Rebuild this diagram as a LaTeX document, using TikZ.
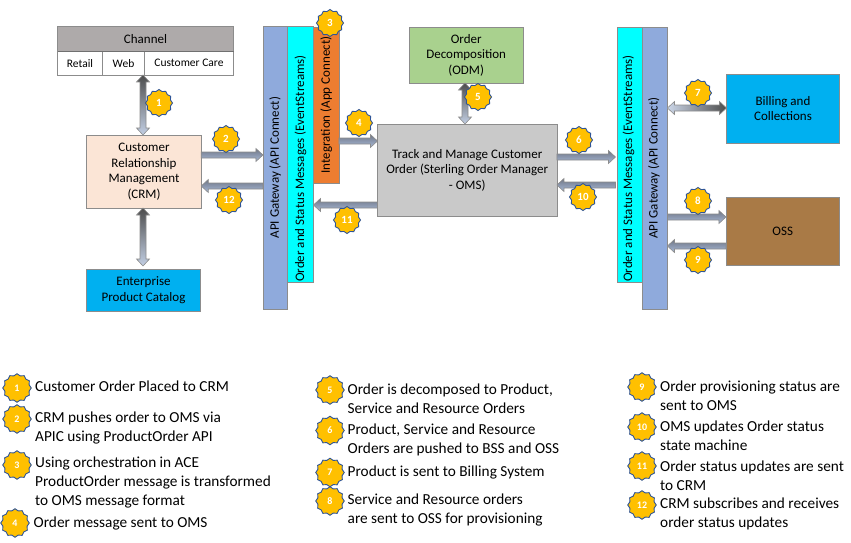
\documentclass[tikz,border=0pt]{standalone}
\usepackage{fontspec}
\setmainfont{Carlito}
\usetikzlibrary{shapes.geometric,calc}
\definecolor{edgegray}{HTML}{8C8C8C}
\definecolor{darkshade}{HTML}{6F7686}
\definecolor{lightshade}{HTML}{A9BBD9}
\definecolor{stargold}{HTML}{FFC000}
\definecolor{starblue}{HTML}{2F5597}
\definecolor{barcyan}{HTML}{00FFFF}
\definecolor{barblue}{HTML}{8FAADC}
\definecolor{skyfill}{HTML}{00B0F0}
\definecolor{crmfill}{HTML}{FBE5D6}
\definecolor{intfill}{HTML}{ED7D31}
\definecolor{odmfill}{HTML}{A9D18E}
\definecolor{ossfill}{HTML}{A97A46}
\definecolor{omsfill}{HTML}{C9C9C9}
\definecolor{chanfill}{HTML}{AEAAAA}
\tikzset{
  box/.style={draw=edgegray,line width=0.9pt,inner sep=0pt,outer sep=0pt,align=center,font=\fontsize{13}{15.5}\selectfont,text=black},
  cell/.style={box,fill=white,minimum height=23.5pt,font=\fontsize{11.5}{14}\selectfont},
  barlabel/.style={box,draw=none,rotate=90},
  badge/.style={star,star points=12,star point ratio=1.14,draw=starblue,line width=0.9pt,fill=stargold,minimum size=27pt,inner sep=0pt,text=white,font=\bfseries\fontsize{11}{11}\selectfont},
  legendbadge/.style={badge,minimum size=28.5pt,font=\bfseries\fontsize{10}{10}\selectfont},
  legend/.style={anchor=west,inner sep=0pt,align=left,font=\fontsize{15.3}{19}\selectfont,text=black},
  arrowbody/.style={draw=edgegray,line width=0.6pt,line join=miter},
  across/.style={arrowbody,top color=darkshade,bottom color=lightshade},
  alongdown/.style={arrowbody,top color=black!70,bottom color=lightshade!70!white},
  alongright/.style={arrowbody,left color=lightshade!60!white,right color=black!70},
}
\newcommand{\blockarrow}[3][across]{%
  \coordinate (ta) at (#2);\coordinate (tb) at (#3);
  \coordinate (th) at ($(tb)!7pt!(ta)$);
  \path[#1] ($(ta)!3pt!90:(tb)$) -- ($(th)!3pt!-90:(ta)$) -- ($(th)!6.5pt!-90:(ta)$) -- (tb)
    -- ($(th)!6.5pt!90:(ta)$) -- ($(th)!3pt!90:(ta)$) -- ($(ta)!3pt!-90:(tb)$) -- cycle;}
\newcommand{\twowayarrow}[3][alongdown]{%
  \coordinate (ta) at (#2);\coordinate (tb) at (#3);
  \coordinate (th) at ($(tb)!7pt!(ta)$);\coordinate (tg) at ($(ta)!7pt!(tb)$);
  \path[#1] (ta) -- ($(tg)!6.5pt!90:(tb)$) -- ($(tg)!3pt!90:(tb)$) -- ($(th)!3pt!-90:(ta)$) -- ($(th)!6.5pt!-90:(ta)$) -- (tb)
    -- ($(th)!6.5pt!90:(ta)$) -- ($(th)!3pt!90:(ta)$) -- ($(tg)!3pt!-90:(tb)$) -- ($(tg)!6.5pt!-90:(tb)$) -- cycle;}
\begin{document}
\begin{tikzpicture}[x=1pt,y=-1pt]
\useasboundingbox (0,0) rectangle (851,542);
% Channel
\node[cell,minimum width=45pt] (retail) at (80,63.2) {Retail};
\node[cell,minimum width=42pt] (web) at (123.5,63.2) {Web};
\node[cell,minimum width=89pt] (care) at (189,63.2) {Customer Care};
\node[box,fill=chanfill,minimum width=176pt,minimum height=25pt] (channel) at (145.5,39) {Channel};
\draw[edgegray!80!black,line width=1.6pt] (channel.south west) -- (channel.south east);
% Main boxes
\node[box,fill=crmfill,minimum width=114.5pt,minimum height=73pt,yshift=-1pt] (crm) at (144,170.5) {Customer\\Relationship\\Management\\(CRM)};
\node[box,fill=skyfill,minimum width=114pt,minimum height=42pt] (cat) at (143.5,290) {Enterprise\\Product Catalog};
\node[box,fill=barblue,minimum width=24.5pt,minimum height=283pt] (api) at (275.2,167.7) {};
\node[barlabel] (apilabel) at (api.center) {API Gateway (API Connect)};
\node[box,fill=barcyan,minimum width=26pt,minimum height=256pt] (es) at (300.5,154.5) {};
\node[barlabel] (eslabel) at (300.5,168.5) {Order and Status Messages (EventStreams)};
\node[box,fill=intfill,minimum width=25.5pt,minimum height=156pt] (integ) at (326.2,105) {};
\node[barlabel] (integlabel) at (integ.center) {Integration (App Connect)};
\node[box,fill=odmfill,minimum width=114.5pt,minimum height=56pt] (odm) at (466.2,55) {Order\\Decomposition\\(ODM)};
\node[box,fill=omsfill,minimum width=179.5pt,minimum height=92pt] (oms) at (467.2,170) {Track and Manage Customer\\Order (Sterling Order Manager\\- OMS)};
\node[box,fill=barcyan,minimum width=24.5pt,minimum height=254.5pt] (res) at (629.7,154.7) {};
\node[barlabel] (reslabel) at (628.5,168.5) {Order and Status Messages (EventStreams)};
\node[box,fill=barblue,minimum width=25.5pt,minimum height=281.5pt] (rapi) at (654.7,168.2) {};
\node[barlabel] (rapilabel) at (654,168) {API Gateway (API Connect)};
\node[box,fill=skyfill,minimum width=113pt,minimum height=69pt] (bill) at (783,108.5) {Billing and\\Collections};
\node[box,fill=ossfill,minimum width=113.5pt,minimum height=68.5pt] (oss) at (782.7,231.2) {OSS};
% Connectors
\twowayarrow{143,0 |- care.south}{143,0 |- crm.north}
\twowayarrow{143,0 |- crm.south}{$(143,0 |- cat.north)+(0,-3)$}
\blockarrow{crm.east |- 0,155}{api.west |- 0,155}
\blockarrow{api.west |- 0,186}{crm.east |- 0,186}
\blockarrow{integ.east |- 0,141}{oms.west |- 0,141}
\blockarrow{oms.west |- 0,205}{es.east |- 0,205}
\twowayarrow{465,0 |- odm.south}{465,0 |- oms.north}
\blockarrow{oms.east |- 0,157}{$(res.west |- 0,157)+(-2,0)$}
\blockarrow{$(res.west |- 0,185)+(-2,0)$}{oms.east |- 0,185}
\twowayarrow[alongright]{rapi.east |- 0,108}{bill.west |- 0,108}
\blockarrow{rapi.east |- 0,217}{oss.west |- 0,217}
\blockarrow{oss.west |- 0,246}{rapi.east |- 0,246}
% Badges on the diagram
\node[badge] (b1) at (159,103) {1};
\node[badge] (b2) at (226,139) {2};
\node[badge] (b3) at (330,23) {3};
\node[badge] (b4) at (359,123) {4};
\node[badge] (b5) at (478,97) {5};
\node[badge] (b6) at (579,140) {6};
\node[badge] (b7) at (698,93) {7};
\node[badge] (b8) at (698,201) {8};
\node[badge] (b9) at (698,260) {9};
\node[badge] (b10) at (583,197) {10};
\node[badge] (b11) at (347,220) {11};
\node[badge] (b12) at (229,200) {12};
% Legend
\node[legendbadge] (k1) at (17,388) {1};
\node[legend] (t1) at (35,386) {Customer Order Placed to CRM};
\node[legendbadge] (k2) at (17,419) {2};
\node[legend] (t2) at (35,428) {CRM pushes order to OMS via\\APIC using ProductOrder API};
\node[legendbadge] (k3) at (17,465) {3};
\node[legend] (t3) at (35,482) {Using orchestration in ACE\\ProductOrder message is transformed\\to OMS message format};
\node[legendbadge] (k4) at (15,523) {4};
\node[legend] (t4) at (33.5,523) {Order message sent to OMS};
\node[legendbadge] (k5) at (330,390) {5};
\node[legend] (t5) at (347.5,398.5) {Order is decomposed to Product,\\Service and Resource Orders};
\node[legendbadge] (k6) at (330,430.5) {6};
\node[legend] (t6) at (347.5,439.5) {Product, Service and Resource\\Orders are pushed to BSS and OSS};
\node[legendbadge] (k7) at (330,472.5) {7};
\node[legend] (t7) at (347.5,472) {Product is sent to Billing System};
\node[legendbadge] (k8) at (330,501) {8};
\node[legend] (t8) at (347.5,510) {Service and Resource orders\\are sent to OSS for provisioning};
\node[legendbadge] (k9) at (642,387) {9};
\node[legend] (t9) at (660,395.5) {Order provisioning status are\\sent to OMS};
\node[legendbadge] (k10) at (642,427) {10};
\node[legend] (t10) at (660,435.5) {OMS updates Order status\\state machine};
\node[legendbadge] (k11) at (642,466) {11};
\node[legend] (t11) at (660,475.5) {Order status updates are sent\\to CRM};
\node[legendbadge] (k12) at (642,505) {12};
\node[legend] (t12) at (660,513.5) {CRM subscribes and receives\\order status updates};
\end{tikzpicture}
\end{document}
